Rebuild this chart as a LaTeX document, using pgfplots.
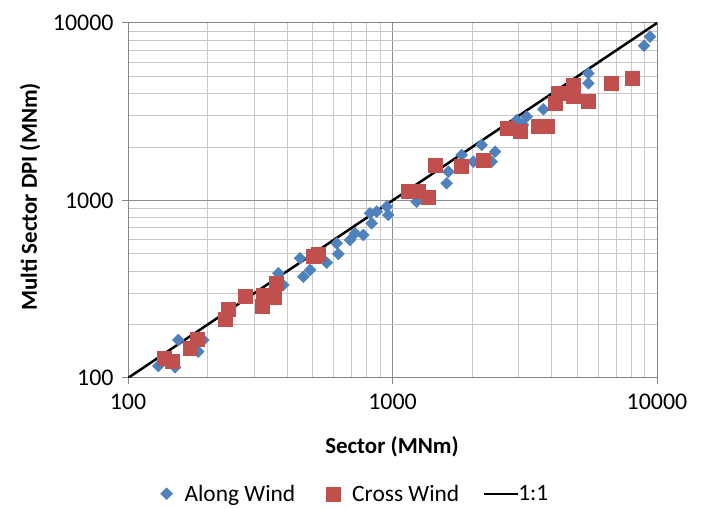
\documentclass[border=0pt]{standalone}
\usepackage{pgfplots}
\pgfplotsset{compat=1.18}
\usepackage{fontspec}
\setmainfont{Carlito}
\definecolor{alongblue}{RGB}{79,129,189}
\definecolor{crossred}{RGB}{192,80,77}
\definecolor{majgrid}{RGB}{140,140,140}
\definecolor{mingrid}{RGB}{200,200,200}
\definecolor{axgray}{RGB}{134,134,134}
\begin{document}
\begin{tikzpicture}[x=1bp,y=1bp]
\path[use as bounding box] (0,0) rectangle (701,508);
\begin{axis}[
  at={(128bp,130bp)}, anchor=south west,
  scale only axis, width=529bp, height=355bp,
  xmode=log, ymode=log,
  xmin=100, xmax=10000, ymin=100, ymax=10000,
  xtick={100,1000,10000}, xticklabels={100,1000,10000},
  ytick={100,1000,10000}, yticklabels={100,1000,10000},
  minor xtick={200,300,400,500,600,700,800,900,2000,3000,4000,5000,6000,7000,8000,9000},
  minor ytick={200,300,400,500,600,700,800,900,2000,3000,4000,5000,6000,7000,8000,9000},
  grid=both,
  major grid style={majgrid, line width=1bp},
  minor grid style={mingrid, line width=1bp},
  axis line style={axgray, line width=1bp},
  tick style={axgray, line width=1bp},
  tick align=outside,
  major tick length=6bp, minor tick length=0bp,
  xtick pos=bottom, ytick pos=left,
  /pgf/number format/assume math mode=true,
  tick label style={font=\fontsize{24}{28}\selectfont},
  xticklabel style={yshift=-6bp},
  yticklabel style={xshift=-5bp},
  label style={font=\fontsize{23}{27}\selectfont\bfseries},
  xlabel={Sector (MNm)},
  ylabel={Multi Sector DPI (MNm)},
  xlabel style={at={(rel axis cs:0.499,-0.194)}, anchor=center},
  ylabel style={at={(rel axis cs:-0.185,0.51)}, anchor=center, rotate=0},
  legend style={at={(rel axis cs:0.43,-0.326)}, anchor=center, draw=none, fill=none,
    legend columns=3, font=\fontsize{23.5}{27}\selectfont,
    /tikz/every odd column/.append style={column sep=10bp},
    /tikz/every even column/.append style={column sep=29bp}},
  legend cell align=left,
]
\addplot[only marks, mark=square*, mark size=4.2bp, mark options={rotate=45, fill=alongblue, draw=alongblue}] coordinates {
(130.2,116.8) (150.6,114.9) (155.0,163.7) (192.6,163.7) (184.5,140.7)
(239.4,247.0) (386.5,334.1) (370.2,389.0) (447.1,472.4) (460.1,372.1)
(487.8,406.0) (563.9,446.4) (615.2,574.1) (623.9,499.5) (690.8,599.3)
(721.5,653.4) (775.6,639.2) (822.1,847.4) (834.4,743.8) (871.6,864.9)
(951.0,922.8) (964.0,828.9) (1216,1074) (1234,984.4) (1603,1250)
(1626,1453) (1826,1804) (2021,1654) (2174,2055) (2441,1883)
(2371,1654) (2949,2841) (3217,2966) (3115,2663) (3716,3265)
(5499,5208) (5499,4575) (9408,8373) (8931,7449) (4689,4018)
};
\addplot[forget plot, black, line width=2.5bp, no marks] coordinates {(100,100) (10000,10000)};
\addplot[only marks, mark=square*, mark size=7bp, mark options={fill=crossred, draw=crossred}] coordinates {
(136.8,129.7) (146.7,124.7) (181.9,165.2) (172.6,147.0) (232.6,214.1)
(239.4,243.8) (276.9,287.1) (320.3,252.2) (324.8,293.5) (356.5,284.8)
(364.9,341.6) (501.8,486.7) (522.9,499.5) (1147,1121) (1252,1121)
(1366,1042) (1447,1585) (1826,1564) (2204,1691) (2703,2552)
(3034,2441) (3557,2605) (3828,2629) (4116,3528) (4236,4018)
(4800,4474) (4800,3845) (5499,3637) (6683,4575) (8025,4881)
};
\addlegendimage{black, line width=2bp, no marks,
  legend image code/.code={\path (0bp,0bp) -- (14bp,0bp); \draw[black, line width=2bp, overlay] (-7bp,0bp) -- (27bp,0bp);}}
\legend{Along Wind, Cross Wind, 1:1}
\end{axis}
\end{tikzpicture}
\end{document}
